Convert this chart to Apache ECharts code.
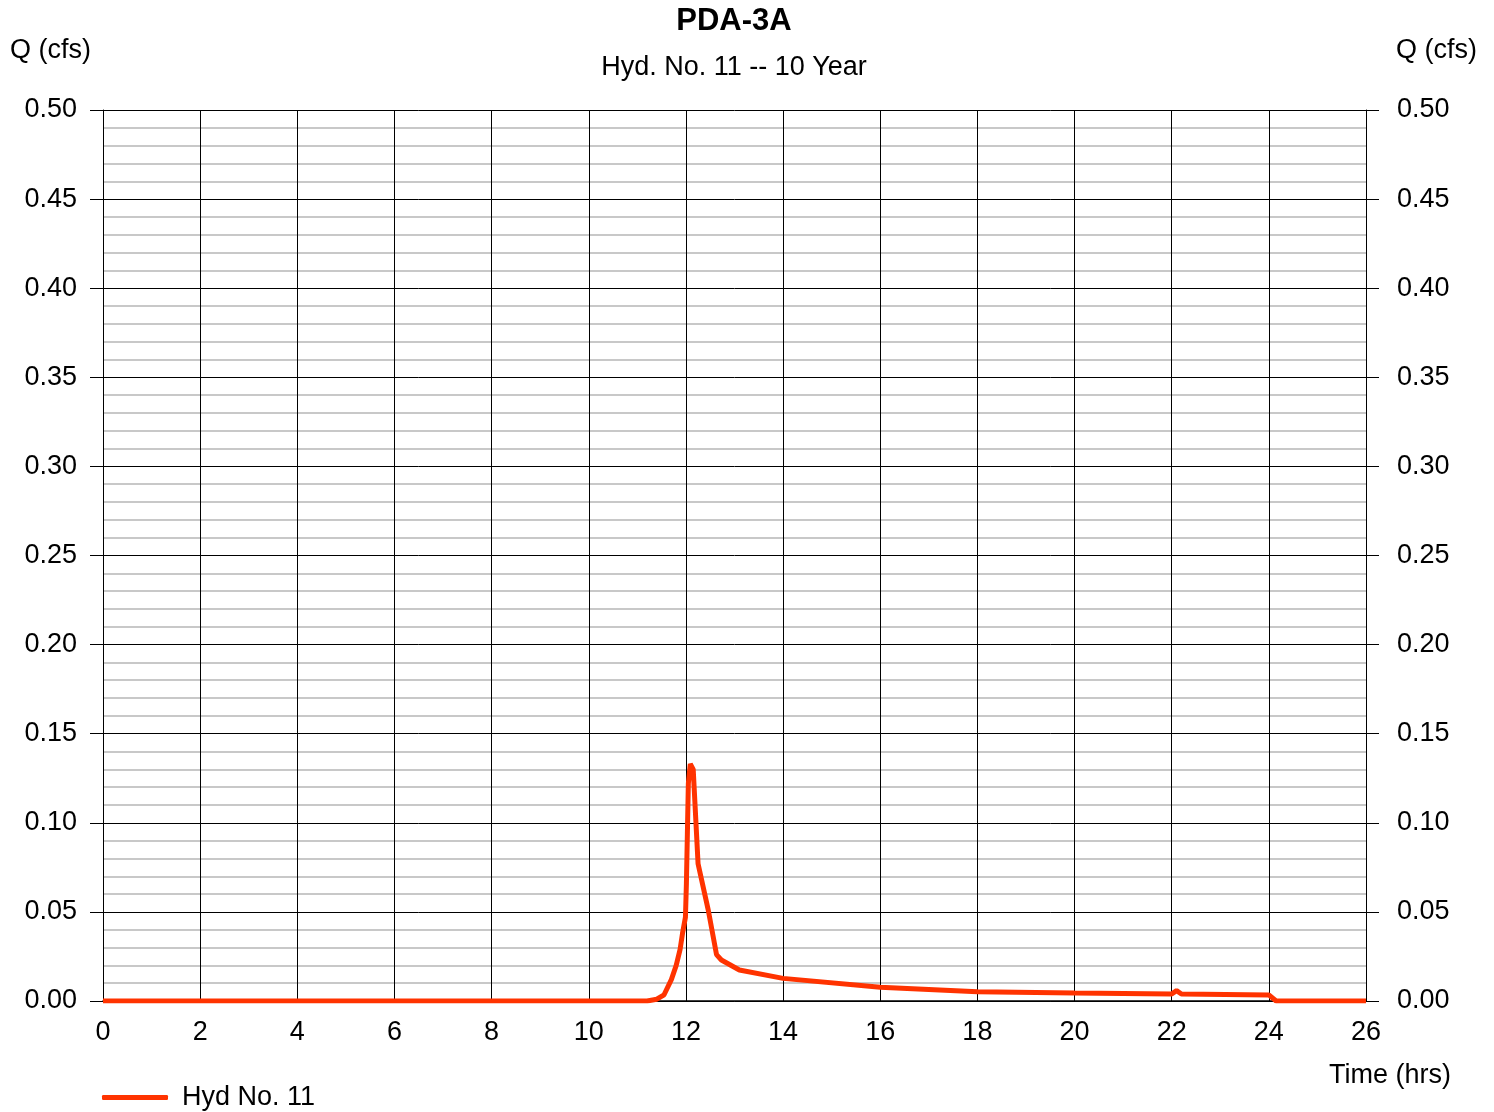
<!DOCTYPE html>
<html>
<head>
<meta charset="utf-8">
<script src="https://cdn.jsdelivr.net/npm/echarts@6/dist/echarts.min.js"></script>
<style>
  html, body { margin: 0; padding: 0; background: #fff; }
  #chart { width: 1494px; height: 1112px; }
</style>
</head>
<body>
<div id="chart"></div>
<script>
// hydrograph
const times = [0, 11.2, 11.4, 11.55, 11.7, 11.8, 11.88, 11.93, 11.99, 12.01, 12.03, 12.05, 12.09, 12.15, 12.25, 12.46, 12.63, 12.73, 13.1, 14.0, 16.0, 18.0, 20.0, 22.0, 22.1, 22.2, 24.0, 24.15, 26];
const flows = [0, 0, 0.001, 0.0035, 0.012, 0.02, 0.029, 0.038, 0.047, 0.066, 0.094, 0.122, 0.133, 0.13, 0.077, 0.051, 0.026, 0.023, 0.0174, 0.0127, 0.0077, 0.0052, 0.0045, 0.0039, 0.0058, 0.0039, 0.0034, 0, 0];
const seriesName = 'Hyd No. 11';
const titleText = 'PDA-3A';
const subTitleText = 'Hyd. No. 11 -- 10 Year';

const font = 'Liberation Sans, Arial, sans-serif';
const pts = times.map((t, i) => [t, flows[i]]);

function yAxisOpt(pos, margin) {
    return {
        type: 'value',
        position: pos,
        min: 0,
        max: 0.5,
        interval: 0.05,
        axisLine: { show: true, lineStyle: { color: '#000', width: 1 } },
        axisTick: { show: true, length: 13, lineStyle: { color: '#000' } },
        axisLabel: {
            margin: margin,
            color: '#000',
            fontSize: 27,
            fontFamily: font,
            padding: [4, 0, 0, 0],
            formatter: v => v.toFixed(2)
        },
        splitLine: { show: pos === 'left', lineStyle: { color: '#000', width: 1 } },
        minorTick: { show: false, splitNumber: 5 },
        minorSplitLine: { show: pos === 'left', lineStyle: { color: '#c8c8c8', width: 2 } }
    };
}

let myChart = echarts.init(document.getElementById('chart'));
myChart.setOption({
    animation: false,
    backgroundColor: '#fff',
    title: [{
        text: titleText,
        left: 729,
        textAlign: 'center',
        top: 1,
        textStyle: { fontSize: 31, fontWeight: 'bold', color: '#000', fontFamily: font }
    }, {
        text: subTitleText,
        left: 729,
        textAlign: 'center',
        top: 49,
        textStyle: { fontSize: 27, fontWeight: 'normal', color: '#000', fontFamily: font }
    }],
    graphic: [
        { type: 'text', left: 10, top: 37, style: { text: 'Q (cfs)', font: '27px ' + font, fill: '#000' } },
        { type: 'text', right: 17, top: 37, style: { text: 'Q (cfs)', font: '27px ' + font, fill: '#000' } },
        { type: 'text', right: 43, top: 1062, style: { text: 'Time (hrs)', font: '27px ' + font, fill: '#000' } }
    ],
    legend: {
        data: [seriesName],
        left: 97,
        top: 1079,
        icon: 'roundRect',
        itemWidth: 66,
        itemHeight: 5,
        textStyle: { fontSize: 27, color: '#000', fontFamily: font, padding: [0, 0, 0, 9] }
    },
    grid: {
        left: 103,
        right: 128,
        top: 110,
        bottom: 111,
        outerBoundsMode: 'none',
        containLabel: false
    },
    xAxis: {
        type: 'value',
        min: 0,
        max: 26,
        interval: 2,
        axisLine: { show: true, onZero: false, lineStyle: { color: '#000', width: 1.5 } },
        axisTick: { show: false },
        axisLabel: { margin: 18, color: '#000', fontSize: 27, fontFamily: font },
        splitLine: { show: true, lineStyle: { color: '#000', width: 1 } }
    },
    yAxis: [yAxisOpt('left', 26), yAxisOpt('right', 31)],
    series: [{
        name: seriesName,
        type: 'line',
        data: pts,
        showSymbol: false,
        symbol: 'none',
        lineStyle: { color: '#ff3300', width: 5 },
        itemStyle: { color: '#ff3300' },
        z: 5
    }]
});
</script>
</body>
</html>
